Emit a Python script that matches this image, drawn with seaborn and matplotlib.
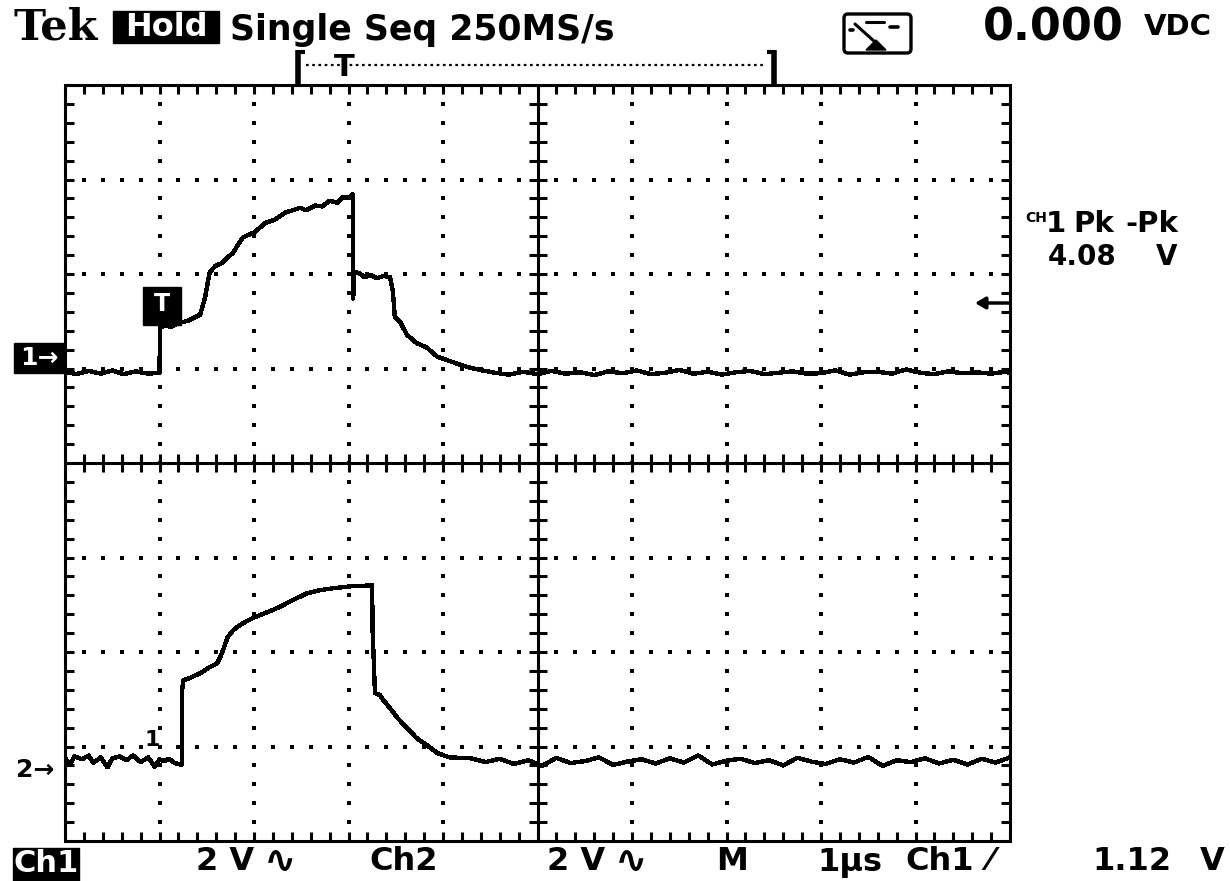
import numpy as np
import pandas as pd
import matplotlib
matplotlib.use("Agg")
import matplotlib.pyplot as plt
from matplotlib.patches import Rectangle, FancyBboxPatch
import seaborn as sns

# ---------------- acquired waveforms (time in µs, volts relative to each ground) -------------
ch1_time = [0.00, 0.12, 0.25, 0.38, 0.50, 0.62, 0.75, 0.88, 1.00,
            1.005, 1.06, 1.12, 1.22, 1.30, 1.43, 1.48, 1.53, 1.59, 1.66, 1.72, 1.78,
            1.84, 1.88, 2.01, 2.12, 2.22, 2.33, 2.49, 2.55, 2.65, 2.72, 2.80, 2.88,
            2.94, 3.00, 3.04, 3.045, 3.05, 3.06, 3.12, 3.17, 3.23, 3.30, 3.37, 3.44,
            3.47, 3.49, 3.55, 3.62, 3.72, 3.83, 3.94, 4.04, 4.18, 4.30, 4.39,
            4.55, 4.70, 4.85, 5.00, 5.15, 5.30, 5.45, 5.60, 5.75, 5.90, 6.05, 6.20,
            6.35, 6.50, 6.65, 6.80, 6.95, 7.10, 7.25, 7.40, 7.55, 7.70, 7.85, 8.00,
            8.15, 8.30, 8.45, 8.60, 8.75, 8.90, 9.05, 9.20, 9.35, 9.50, 9.65, 9.80,
            9.95, 10.00]
ch1_volts = [0.00, -0.05, 0.02, -0.04, 0.03, -0.05, 0.01, -0.04, -0.02,
             0.93, 0.98, 0.95, 1.04, 1.08, 1.21, 1.55, 2.10, 2.24, 2.30, 2.42, 2.52,
             2.72, 2.84, 2.96, 3.15, 3.22, 3.37, 3.47, 3.42, 3.52, 3.50, 3.62, 3.58,
             3.70, 3.68, 3.76, 3.76, 1.55, 2.12, 2.08, 2.00, 2.05, 1.98, 2.03, 2.00,
             1.70, 1.16, 1.04, 0.78, 0.61, 0.51, 0.32, 0.25, 0.15, 0.08, 0.04,
             -0.02, -0.06, 0.00, -0.05, 0.02, -0.04, -0.01, -0.07, 0.01, -0.03, 0.03, -0.05,
             -0.02, 0.04, -0.04, 0.00, -0.06, -0.01, 0.02, -0.05, -0.02, 0.01, -0.04, -0.03,
             0.03, -0.06, -0.01, 0.00, -0.04, 0.05, -0.02, -0.05, 0.01, -0.03, -0.01, -0.04,
             0.00, -0.02]

ch2_time = [0.00, 0.05, 0.10, 0.18, 0.25, 0.30, 0.38, 0.45, 0.50, 0.58, 0.65, 0.72,
            0.80, 0.88, 0.95, 1.00, 1.05, 1.10, 1.16, 1.20, 1.235,
            1.24, 1.25, 1.32, 1.43, 1.53, 1.61, 1.66, 1.72, 1.78, 1.85, 1.94, 2.01,
            2.14, 2.27, 2.41, 2.56, 2.70, 2.84, 3.02, 3.25, 3.255, 3.28, 3.33, 3.37,
            3.44, 3.52, 3.62, 3.72, 3.83, 3.94, 4.07, 4.29,
            4.45, 4.60, 4.75, 4.90, 5.05, 5.20, 5.35, 5.50, 5.65, 5.80, 5.95, 6.10,
            6.25, 6.40, 6.55, 6.70, 6.85, 7.00, 7.15, 7.30, 7.45, 7.60, 7.75, 7.90,
            8.05, 8.20, 8.35, 8.50, 8.65, 8.80, 8.95, 9.10, 9.25, 9.40, 9.55, 9.70,
            9.85, 10.00]
ch2_volts = [0.05, -0.10, 0.08, 0.02, 0.10, -0.05, 0.06, -0.15, 0.04, 0.08, 0.00, 0.10,
             -0.04, 0.06, -0.14, 0.02, -0.02, 0.03, -0.06, -0.08, -0.10,
             1.48, 1.69, 1.74, 1.84, 1.97, 2.05, 2.26, 2.60, 2.75, 2.86, 2.96, 3.03,
             3.13, 3.24, 3.39, 3.53, 3.60, 3.64, 3.68, 3.70, 2.75, 1.42, 1.38, 1.27,
             1.10, 0.89, 0.68, 0.47, 0.32, 0.15, 0.06, 0.04,
             -0.04, 0.03, -0.08, 0.00, -0.12, 0.05, -0.06, -0.02, 0.06, -0.10, -0.03, 0.02,
             -0.07, 0.04, -0.05, 0.10, -0.09, -0.01, 0.03, -0.06, 0.00, -0.11, 0.05, -0.03,
             -0.08, 0.02, -0.05, 0.07, -0.12, 0.00, -0.04, 0.04, -0.07, 0.01, -0.09, 0.03,
             -0.05, 0.06]

# vertical position of each channel's ground reference on screen (V, at 2 V/div)
ch1_ground = 1.93
ch2_ground = -6.29

# readouts
header_left = "Single Seq 250MS/s"
header_hold = "Hold"
readout_value = "0.000"
readout_unit = "VDC"
meas_parts = [("1", 1046), ("Pk", 1073), ("-Pk", 1125)]
meas_value_parts = [("4.08", 1048), ("V", 1156)]
footer_items = [("2 V", 196), ("∿", 264), ("Ch2", 369), ("2 V", 547), ("∿", 615),
                ("M", 716), ("1µs", 817), ("Ch1", 905), ("⁄", 987),
                ("1.12", 1092), ("V", 1200)]

# ---------------- figure ----------------
sns.set_style("white")
plt.rcParams['font.family'] = ['DejaVu Sans']
W, H = 1230, 881
fig = plt.figure(figsize=(W / 100, H / 100), dpi=100)
fig.patch.set_facecolor("white")

L, R, T, B = 65, 1010, 85, 841
ax = fig.add_axes([L / W, 1 - B / H, (R - L) / W, (B - T) / H])
ax.set_xlim(0, 10)
ax.set_ylim(-8, 8)
ax.axis("off")

PX_X = 10 / (R - L)      # µs per pixel
PX_Y = 16 / (B - T)      # V per pixel
LW = 2.2                 # ~3 px

minor_x = np.round(np.arange(0, 10.0001, 0.2), 3)
minor_y = np.round(np.arange(-8, 8.0001, 0.4), 3)

# dotted graticule
dots = []
for gx in [1, 2, 3, 4, 6, 7, 8, 9]:
    for yy in minor_y[1:-1]:
        dots.append((gx, yy))
for gy in [-6, -4, -2, 2, 4, 6]:
    for xx in minor_x[1:-1]:
        if abs(xx - 5) > 1e-6:
            dots.append((xx, gy))
dots = np.array(dots)
ax.scatter(dots[:, 0], dots[:, 1], s=5, marker="s", color="black", linewidths=0)

# border
ax.add_patch(Rectangle((0, -8), 10, 16, fill=False, lw=LW, edgecolor="black", clip_on=False))

# border ticks
tl = 9
ax.vlines(minor_x, 8 - tl * PX_Y, 8, color="black", lw=LW)
ax.vlines(minor_x, -8, -8 + tl * PX_Y, color="black", lw=LW)
ax.hlines(minor_y, 0, tl * PX_X, color="black", lw=LW)
ax.hlines(minor_y, 10 - tl * PX_X, 10, color="black", lw=LW)

# centre cross with ticks
ax.axhline(0, color="black", lw=LW)
ax.axvline(5, color="black", lw=LW)
ct = 9
ax.vlines(minor_x, -ct * PX_Y, ct * PX_Y, color="black", lw=LW)
ax.hlines(minor_y, 5 - ct * PX_X, 5 + ct * PX_X, color="black", lw=LW)

# waveforms
df1 = pd.DataFrame({"t": ch1_time, "v": np.array(ch1_volts) + ch1_ground})
df2 = pd.DataFrame({"t": ch2_time, "v": np.array(ch2_volts) + ch2_ground})
for df in (df1, df2):
    sns.lineplot(data=df, x="t", y="v", ax=ax, color="black", lw=2.4,
                 estimator=None, sort=False, antialiased=False)
ax.set_xlabel("")
ax.set_ylabel("")
ax.set_xlim(0, 10)
ax.set_ylim(-8, 8)

# ---------------- overlay in pixel coordinates for readouts ----------------
ov = fig.add_axes([0, 0, 1, 1], facecolor="none")
ov.set_xlim(0, W)
ov.set_ylim(H, 0)
ov.axis("off")
bold = dict(fontweight="bold", color="black")

ov.text(14, 28, "Tek", family="DejaVu Serif", fontsize=31, va="center", ha="left", **bold)
ov.add_patch(Rectangle((113, 11), 106, 32, color="black"))
ov.text(166, 27.5, header_hold, fontsize=23, va="center", ha="center",
        fontweight="bold", color="white")
ov.text(230, 30, header_left, fontsize=25, va="center", ha="left", **bold)

# trigger position bracket
ov.plot([298, 298], [50, 86], color="black", lw=4, solid_capstyle="butt")
ov.plot([298, 305], [52, 52], color="black", lw=3, solid_capstyle="butt")
ov.plot([774, 774], [50, 86], color="black", lw=4, solid_capstyle="butt")
ov.plot([767, 774], [52, 52], color="black", lw=3, solid_capstyle="butt")
ov.plot([306, 766], [65, 65], color="black", lw=1.6, ls=(0, (1.2, 1.6)))
ov.text(344, 68, "T", fontsize=22, va="center", ha="center", **bold)

# acquisition icon
ov.add_patch(FancyBboxPatch((844, 14), 67, 39, boxstyle="round,pad=0,rounding_size=4",
                            fill=False, lw=2.4, edgecolor="black"))
ov.plot([855, 875], [24, 42], color="black", lw=2.2)
ov.plot([866, 884], [22, 22], color="black", lw=2.2)
ov.plot([890, 898], [27, 27], color="black", lw=2.6)
ov.plot([850, 853], [30, 30], color="black", lw=2.6)
ov.fill([866, 876, 886], [50, 40, 50], color="black")

ov.text(1124, 28, readout_value, fontsize=32, va="center", ha="right", **bold)
ov.text(1144, 27, readout_unit, fontsize=21, va="center", ha="left", **bold)

# measurement readout
ov.text(1025, 218, "CH", fontsize=10, va="center", ha="left", **bold)
for txt, x in meas_parts:
    ov.text(x, 224, txt, fontsize=21, va="center", ha="left", **bold)
for txt, x in meas_value_parts:
    ov.text(x, 257, txt, fontsize=20, va="center", ha="left", **bold)

# trigger level arrow
ov.annotate("", xy=(975, 303), xytext=(1010, 303),
            arrowprops=dict(arrowstyle="-|>,head_length=0.6,head_width=0.35",
                            lw=2.5, color="black", shrinkA=0, shrinkB=0))

# channel markers
ov.add_patch(Rectangle((14, 343), 51, 30, color="black"))
ov.text(39, 358, "1→", fontsize=18, va="center", ha="center", fontweight="bold", color="white")
ov.text(16, 770, "2→", fontsize=18, va="center", ha="left", **bold)
ov.add_patch(Rectangle((143, 287), 38, 38, color="black"))
ov.text(162, 304, "T", fontsize=17, va="center", ha="center", fontweight="bold", color="white")
ov.text(152, 740, "1", fontsize=16, va="center", ha="center", **bold)

# footer
ov.add_patch(Rectangle((13, 848), 66, 33, color="black"))
ov.text(46, 863, "Ch1", fontsize=22, va="center", ha="center", fontweight="bold", color="white")
for label, x in footer_items:
    size = 28 if label == "∿" else 23
    ov.text(x, 862, label, fontsize=size, va="center", ha="left", **bold)

fig.savefig("out.png", dpi=100, facecolor="white")
